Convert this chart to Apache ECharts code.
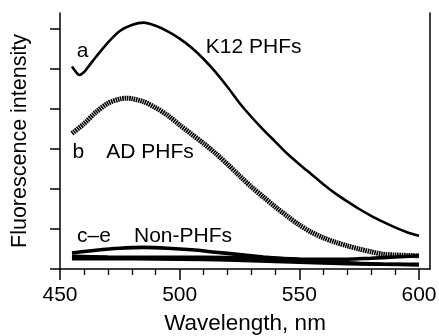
<!DOCTYPE html>
<html>
<head>
<meta charset="utf-8">
<script src="https://cdn.jsdelivr.net/npm/echarts@6/dist/echarts.min.js"></script>
<style>
html,body{margin:0;padding:0;background:#fff;}
#chart{width:439px;height:336px;}
</style>
</head>
<body>
<div id="chart"></div>
<script>
// Wavelength (nm) and fluorescence intensity (arbitrary units)
var wavelengthA = [455,457,458,460,462,465,470,475,480,485,490,495,500,505,510,515,520,525,530,535,540,545,550,555,560,565,570,575,580,585,590,595,600];
var k12PHFs     = [5.06,4.9,4.85,4.92,5.07,5.3,5.66,5.95,6.1,6.16,6.08,5.94,5.76,5.53,5.25,4.92,4.55,4.15,3.8,3.48,3.18,2.88,2.62,2.37,2.12,1.89,1.69,1.5,1.33,1.18,1.04,0.92,0.83];

var wavelengthB = [455,460,465,470,475,478,480,485,490,495,500,505,510,515,520,525,530,535,540,545,550,555,560,565,570,575,580,585,590,595,600];
var adPHFs      = [3.39,3.63,3.92,4.14,4.25,4.27,4.26,4.18,4.03,3.84,3.6,3.37,3.14,2.89,2.62,2.33,2.05,1.8,1.55,1.32,1.1,0.92,0.78,0.67,0.58,0.5,0.43,0.37,0.35,0.34,0.33];

var wavelengthC = [455,465,475,485,495,505,515,525,535,545,555,565,575,585,600];
var nonPHFsC    = [0.40,0.47,0.52,0.54,0.52,0.48,0.42,0.36,0.3,0.25,0.2,0.17,0.14,0.12,0.1];
var wavelengthD = [455,470,490,510,530,550,565,580,590,600];
var nonPHFsD    = [0.32,0.3,0.29,0.29,0.28,0.25,0.24,0.27,0.3,0.33];
var wavelengthE = [455,470,490,510,530,550,570,585,600];
var nonPHFsE    = [0.26,0.26,0.25,0.24,0.21,0.17,0.13,0.12,0.12];

var xMajorTicks = [450,500,550,600];
var xMinorTicks = [460,470,480,490,510,520,530,540,560,570,580,590];
var yTicks = [0,1,2,3,4,5,6];

var annotationText = ['a','K12 PHFs','b','AD PHFs','c\u2013e','Non-PHFs'];
var annotationX    = [459.4,530.9,457.7,487.6,464.2,501.4];
var annotationY    = [5.45,5.54,2.91,2.91,0.81,0.81];

function pairs(xs, ys){ return xs.map(function(x,i){ return [x, ys[i]]; }); }

var FONT = '"Liberation Sans", Arial, Helvetica, sans-serif';
var INK = '#000';

var chart = echarts.init(document.getElementById('chart'), null, {renderer:'canvas'});
var option = {
  animation: false,
  backgroundColor: '#fff',
  grid: {left: 60, right: 9, top: 13, bottom: 67, containLabel: false, outerBoundsMode: 'none'},
  xAxis: [{
    type: 'value', min: 450, max: 604.6, position: 'bottom',
    name: 'Wavelength, nm', nameLocation: 'middle', nameGap: 43,
    nameTextStyle: {fontFamily: FONT, fontSize: 22.5, color: INK},
    axisLine: {show: true, lineStyle: {color: INK, width: 1.5}},
    axisTick: {show: true, inside: false, length: 11, customValues: xMajorTicks, lineStyle: {color: INK, width: 1.5}},
    axisLabel: {show: true, customValues: xMajorTicks, fontFamily: FONT, fontSize: 21, color: INK, margin: 16},
    splitLine: {show: false}
  },{
    type: 'value', min: 450, max: 604.6, position: 'bottom',
    axisLine: {show: false},
    axisTick: {show: true, inside: false, length: 6, customValues: xMinorTicks, lineStyle: {color: INK, width: 1.3}},
    axisLabel: {show: false},
    splitLine: {show: false}
  }],
  yAxis: [{
    type: 'value', min: 0, max: 6.4, position: 'left',
    name: 'Fluorescence intensity', nameLocation: 'middle', nameGap: 29,
    nameTextStyle: {fontFamily: FONT, fontSize: 21.5, color: INK},
    axisLine: {show: true, lineStyle: {color: INK, width: 1.5}},
    axisTick: {show: true, inside: false, length: 10, customValues: yTicks, lineStyle: {color: INK, width: 1.5}},
    axisLabel: {show: false},
    splitLine: {show: false}
  },{
    type: 'value', min: 0, max: 6.4, position: 'right',
    axisLine: {show: true, lineStyle: {color: INK, width: 1.5}},
    axisTick: {show: false}, axisLabel: {show: false}, splitLine: {show: false}
  }],
  series: [
    {type:'line', name:'K12 PHFs', data: pairs(wavelengthA,k12PHFs), smooth: 0.3, showSymbol:false,
     lineStyle:{color:INK, width:2.6}},
    {type:'line', name:'AD PHFs', data: pairs(wavelengthB,adPHFs), smooth: 0.3, showSymbol:false,
     lineStyle:{color:INK, width:5, type:[1.6,0.7], cap:'butt'}},
    {type:'line', name:'Non-PHFs c', data: pairs(wavelengthC,nonPHFsC), smooth: 0.3, showSymbol:false,
     lineStyle:{color:INK, width:3.6}},
    {type:'line', name:'Non-PHFs d', data: pairs(wavelengthD,nonPHFsD), smooth: 0.3, showSymbol:false,
     lineStyle:{color:INK, width:3.6}},
    {type:'line', name:'Non-PHFs e', data: pairs(wavelengthE,nonPHFsE), smooth: 0.3, showSymbol:false,
     lineStyle:{color:INK, width:3.6}},
    {type:'scatter', name:'labels', symbolSize: 0, silent: true,
     itemStyle: {opacity: 1},
     data: annotationText.map(function(t,i){ return {value:[annotationX[i], annotationY[i]], name:t}; }),
     label: {show:true, position:'inside', formatter: function(p){ return p.name; },
             fontFamily: FONT, fontSize: 21, color: INK}}
  ]
};
chart.setOption(option);
</script>
</body>
</html>
